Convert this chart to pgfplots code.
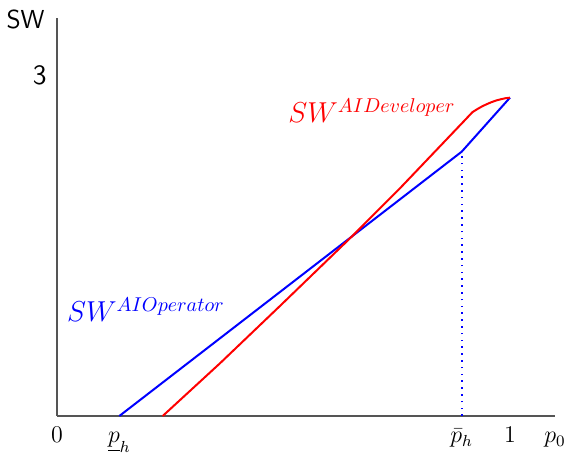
\documentclass[border=0pt]{standalone}
\usepackage{pgfplots}
\pgfplotsset{compat=1.18}
\definecolor{axgray}{RGB}{85,85,85}
\begin{document}
\begin{tikzpicture}
\useasboundingbox (-28.5pt,-19.5pt) rectangle (255.5pt,208pt);
\begin{axis}[
  at={(0,0)}, anchor=south west,
  scale only axis, width=249pt, height=199pt,
  xmin=0, xmax=1.0993, ymin=0, ymax=3.5,
  axis lines=left,
  axis line style={-, axgray, line width=0.6pt},
  major tick length=0pt,
  xtick={0,0.1376,0.8934,1},
  xticklabels={$0$,$\underline{p}_h$,$\bar{p}_h$,$1$},
  ytick={3}, yticklabels={\sffamily 3},
  xticklabel style={font=\fontsize{12}{14}\selectfont, anchor=base, inner sep=0pt, yshift=-13.5pt},
  yticklabel style={font=\fontsize{14}{16}\selectfont, anchor=east, inner sep=0pt, xshift=-5pt},
  clip=false,
]
\addplot[color=blue, line width=0.8pt, dash pattern=on 0.8pt off 2.6pt] coordinates {(0.8934,0) (0.8934,2.3245)};
\addplot[blue, line width=1pt] coordinates {(0.1376,0) (0.8934,2.3245) (1,2.80)};
\addplot[red, line width=1pt, line join=round] coordinates {
  (0.2333,0) (0.3598,0.4635) (0.4923,0.968) (0.6505,1.577) (0.7572,2.003)
  (0.9007,2.603) (0.9168,2.671) (0.9272,2.6975) (0.9376,2.7210) (0.9481,2.7414)
  (0.9585,2.7590) (0.9689,2.7740) (0.9793,2.7851) (0.9896,2.7942) (1,2.7995)};
\node[anchor=base west, inner sep=0pt, text=red, font=\fontsize{14.5}{17}\selectfont] at (axis cs:0.51,2.577) {$SW^{AIDeveloper}$};
\node[anchor=base west, inner sep=0pt, text=blue, font=\fontsize{14.5}{17}\selectfont] at (axis cs:0.0214,0.829) {$SW^{AIOperator}$};
\node[anchor=base, inner sep=0pt, font=\fontsize{12}{14}\selectfont, yshift=-13.5pt] at (rel axis cs:1,0) {$p_0$};
\node[anchor=base east, inner sep=0pt, font=\fontsize{13}{15}\selectfont\sffamily, xshift=-6pt, yshift=-5pt] at (rel axis cs:0,1) {SW};
\end{axis}
\end{tikzpicture}
\end{document}
